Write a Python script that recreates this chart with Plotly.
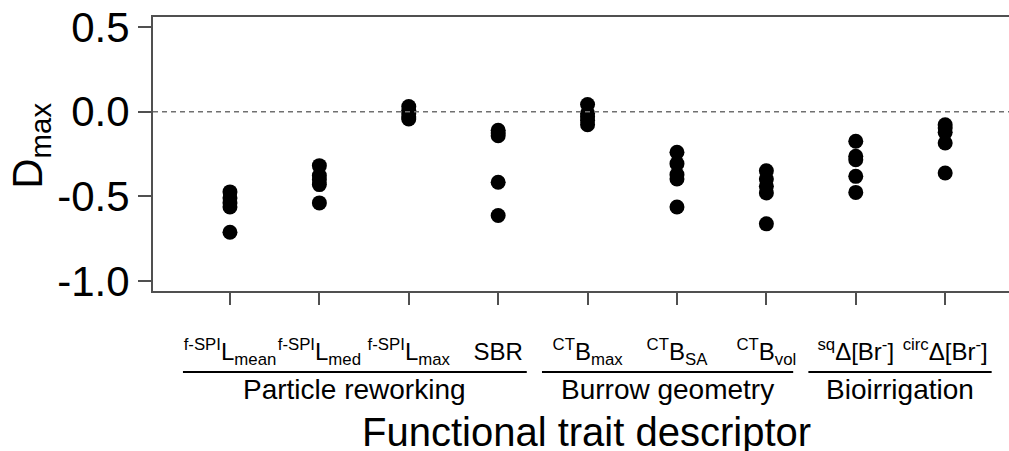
import plotly.graph_objects as go

# ---- data ----
categories = ["<sup>f-SPI</sup>L<sub>mean</sub>", "<sup>f-SPI</sup>L<sub>med</sub>",
              "<sup>f-SPI</sup>L<sub>max</sub>", "SBR",
              "<sup>CT</sup>B<sub>max</sub>", "<sup>CT</sup>B<sub>SA</sub>",
              "<sup>CT</sup>B<sub>vol</sub>",
              "<sup>sq</sup>Δ[Br<sup>-</sup>]", "<sup>circ</sup>Δ[Br<sup>-</sup>]"]

d_lmean = [-0.474, -0.51, -0.539, -0.563, -0.713]
d_lmed = [-0.319, -0.378, -0.402, -0.431, -0.539]
d_lmax = [0.031, 0.008, -0.012, -0.031, -0.043]
d_sbr = [-0.11, -0.126, -0.142, -0.417, -0.614]
d_bmax = [0.043, -0.01, -0.03, -0.05, -0.077]
d_bsa = [-0.24, -0.307, -0.372, -0.398, -0.563]
d_bvol = [-0.349, -0.398, -0.441, -0.48, -0.663]
d_sqbr = [-0.175, -0.264, -0.284, -0.382, -0.477]
d_circbr = [-0.077, -0.096, -0.122, -0.185, -0.362]

series = [d_lmean, d_lmed, d_lmax, d_sbr, d_bmax, d_bsa, d_bvol, d_sqbr, d_circbr]

groups = ["Particle reworking", "Burrow geometry", "Bioirrigation"]

y_ticks = [-1.0, -0.5, 0.0, 0.5]
y_ticktext = ["-1.0", "-0.5", "0.0", "0.5"]

# ---- figure ----
xs, ys = [], []
for i, vals in enumerate(series, start=1):
    xs += [i] * len(vals)
    ys += vals

FONT = "Liberation Sans, Arial, sans-serif"
AX = "#505050"

fig = go.Figure()
fig.add_trace(go.Scatter(x=xs, y=ys, mode="markers",
                         marker=dict(size=15, color="black"),
                         showlegend=False, hoverinfo="y"))

fig.add_hline(y=0, line=dict(color="#707070", width=1.5, dash="5px,4px"))

# group lines (extent per group, layout styling)
line_extent = [(0.474, 4.32), (4.49, 7.30), (7.47, 9.52)]
for (x0, x1), name in zip(line_extent, groups):
    fig.add_shape(type="line", xref="x", yref="paper", x0=x0, x1=x1,
                  y0=-0.296, y1=-0.296, line=dict(color="black", width=2))
    fig.add_annotation(x=(x0 + x1) / 2, xref="x", y=-0.36, yref="paper",
                       text=name, showarrow=False, yanchor="middle",
                       font=dict(size=28, color="black", family=FONT))

fig.add_annotation(x=0.506, xref="paper", y=-0.515, yref="paper",
                   text="Functional trait descriptor", showarrow=False,
                   yanchor="middle", font=dict(size=40, color="black", family=FONT))

fig.add_annotation(x=0, xref="paper", xshift=-122, y=0.53, yref="paper",
                   text="D<sub>max</sub>", textangle=-90, showarrow=False,
                   xanchor="center", yanchor="middle",
                   font=dict(size=42, color="black", family=FONT))

fig.update_layout(
    width=1009, height=451,
    margin=dict(l=153, r=0, t=17, b=160),
    plot_bgcolor="white", paper_bgcolor="white",
    font=dict(family=FONT, color="black"),
    xaxis=dict(range=[0.139, 9.714], tickmode="array",
               tickvals=list(range(1, 10)), ticktext=categories,
               tickangle=0,
               ticks="outside", ticklen=12, tickwidth=1.5, tickcolor=AX,
               showline=True, linecolor=AX, linewidth=2, mirror=True,
               showgrid=False, zeroline=False, automargin=False,
               tickfont=dict(size=24, color="black", family=FONT),
               ticklabelstandoff=26),
    yaxis=dict(range=[-1.06, 0.56], tickmode="array",
               tickvals=y_ticks, ticktext=y_ticktext,
               ticks="outside", ticklen=13, tickwidth=1.5, tickcolor=AX,
               showline=True, linecolor=AX, linewidth=2, mirror=False,
               showgrid=False, zeroline=False, automargin=False,
               tickfont=dict(size=42, color="black", family=FONT),
               ticklabelstandoff=0),
)

fig.write_html("out.html", config={"displayModeBar": False},
               post_script="document.body.style.margin='0';document.body.style.overflow='hidden';")
